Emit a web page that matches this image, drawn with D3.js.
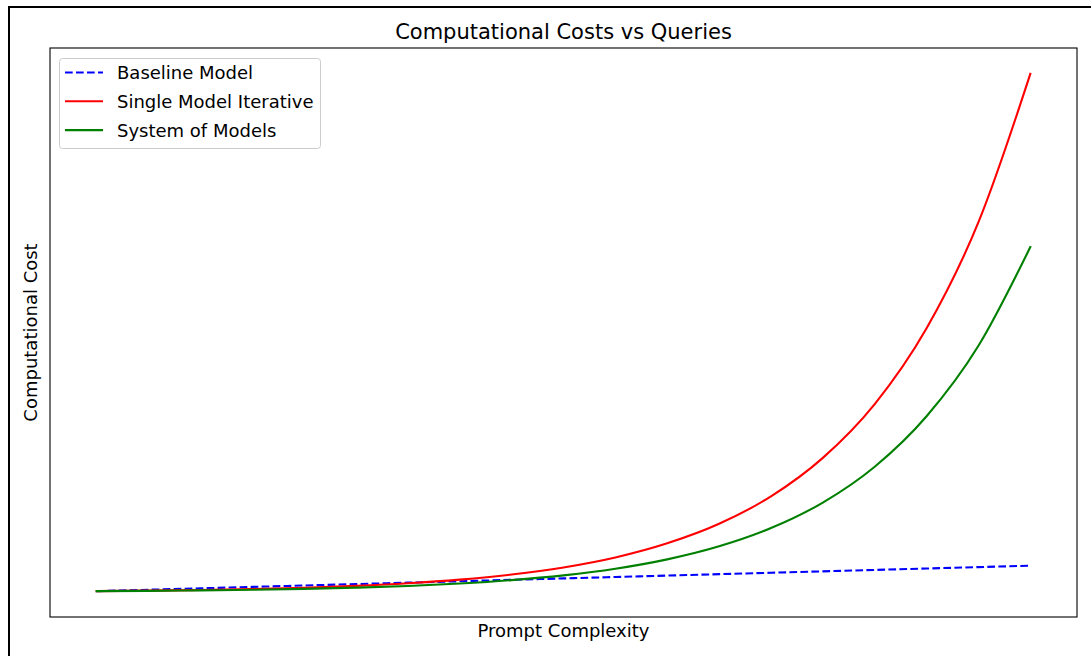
<!DOCTYPE html>
<html>
<head>
<meta charset="utf-8">
<script src="https://cdn.jsdelivr.net/npm/d3@7"></script>
<style>
  html, body { margin: 0; padding: 0; background: #fff; }
  svg { display: block; font-family: "DejaVu Sans", sans-serif; }
</style>
</head>
<body>
<svg id="chart" width="1091" height="656"></svg>
<script>
// Data (arbitrary cost units)
const complexity = [1, 1.5, 2, 2.5, 3, 3.5, 4, 4.5, 5, 5.5, 6, 6.5, 7, 7.5, 8, 8.5, 9, 9.5, 10];
const baselineCost = [1, 1.5, 2, 2.5, 3, 3.5, 4, 4.5, 5, 5.5, 6, 6.5, 7, 7.5, 8, 8.5, 9, 9.5, 10];
const singleIterativeCost = [1, 1.17, 1.41, 1.74, 2.21, 2.86, 3.77, 5.06, 6.86, 9.37, 12.9, 17.9, 24.8, 34.5, 48.1, 67.1, 93.9, 131.4, 183.8];
const systemCost = [1, 1.11, 1.27, 1.49, 1.80, 2.24, 2.84, 3.70, 4.90, 6.57, 8.91, 12.22, 16.83, 23.28, 32.3, 44.96, 62.8, 87.7, 122.6];
const seriesNames = ["Baseline Model", "Single Model Iterative", "System of Models"];
const seriesColors = ["#0000ff", "#ff0000", "#008000"];
const seriesDash = ["7.7,3.3", null, null];
const titleText = "Computational Costs vs Queries";
const xLabelText = "Prompt Complexity";
const yLabelText = "Computational Cost";

const svg = d3.select("#chart");
const axL = 50, axR = 1077, axT = 48, axB = 617;

// outer frame
svg.append("rect").attr("x", 9).attr("y", 7).attr("width", 1200).attr("height", 800)
  .attr("fill", "none").attr("stroke", "#000").attr("stroke-width", 2);

const series = [baselineCost, singleIterativeCost, systemCost];
const allY = series.flat();
const xExt = d3.extent(complexity);
const yExt = d3.extent(allY);
const xPad = (xExt[1] - xExt[0]) * 0.05;
const yPad = (yExt[1] - yExt[0]) * 0.05;

const x = d3.scaleLinear().domain([xExt[0] - xPad, xExt[1] + xPad]).range([axL, axR]);
const y = d3.scaleLinear().domain([yExt[0] - yPad, yExt[1] + yPad]).range([axB, axT]);

const line = d3.line().x((d, i) => x(complexity[i])).y(d => y(d)).curve(d3.curveMonotoneX);

// axes with no ticks
svg.append("g").attr("transform", `translate(0,${axB})`)
  .call(d3.axisBottom(x).tickValues([]).tickSizeOuter(0))
  .select(".domain").attr("stroke", "none");
svg.append("g").attr("transform", `translate(${axL},0)`)
  .call(d3.axisLeft(y).tickValues([]).tickSizeOuter(0))
  .select(".domain").attr("stroke", "none");

const plot = svg.append("g");
series.forEach((s, i) => {
  plot.append("path").datum(s)
    .attr("d", line)
    .attr("fill", "none")
    .attr("stroke", seriesColors[i])
    .attr("stroke-width", 2.1)
    .attr("stroke-dasharray", seriesDash[i])
    .attr("stroke-linecap", seriesDash[i] ? "butt" : "square");
});

// spines
svg.append("rect").attr("x", axL).attr("y", axT).attr("width", axR - axL).attr("height", axB - axT)
  .attr("fill", "none").attr("stroke", "#000").attr("stroke-width", 1.1);

// title and labels
svg.append("text").attr("x", (axL + axR) / 2).attr("y", 39).attr("text-anchor", "middle")
  .attr("font-size", 21).attr("fill", "#000").text(titleText);
svg.append("text").attr("x", (axL + axR) / 2).attr("y", 637).attr("text-anchor", "middle")
  .attr("font-size", 18).attr("fill", "#000").text(xLabelText);
svg.append("text").attr("transform", `translate(37,${(axT + axB) / 2}) rotate(-90)`)
  .attr("text-anchor", "middle").attr("font-size", 18).attr("fill", "#000").text(yLabelText);

// legend
const lg = svg.append("g");
lg.append("rect").attr("x", 59.5).attr("y", 58.5).attr("width", 261).attr("height", 90)
  .attr("rx", 3).attr("fill", "#fff").attr("fill-opacity", 0.8)
  .attr("stroke", "#cccccc").attr("stroke-width", 1);
seriesNames.forEach((n, i) => {
  const cy = 72.5 + i * 28.8;
  lg.append("line").attr("x1", 65).attr("x2", 103).attr("y1", cy).attr("y2", cy)
    .attr("stroke", seriesColors[i]).attr("stroke-width", 2.1)
    .attr("stroke-dasharray", seriesDash[i]);
  lg.append("text").attr("x", 117).attr("y", cy).attr("dy", "0.36em")
    .attr("font-size", 18).attr("fill", "#000").text(n);
});
</script>
</body>
</html>
